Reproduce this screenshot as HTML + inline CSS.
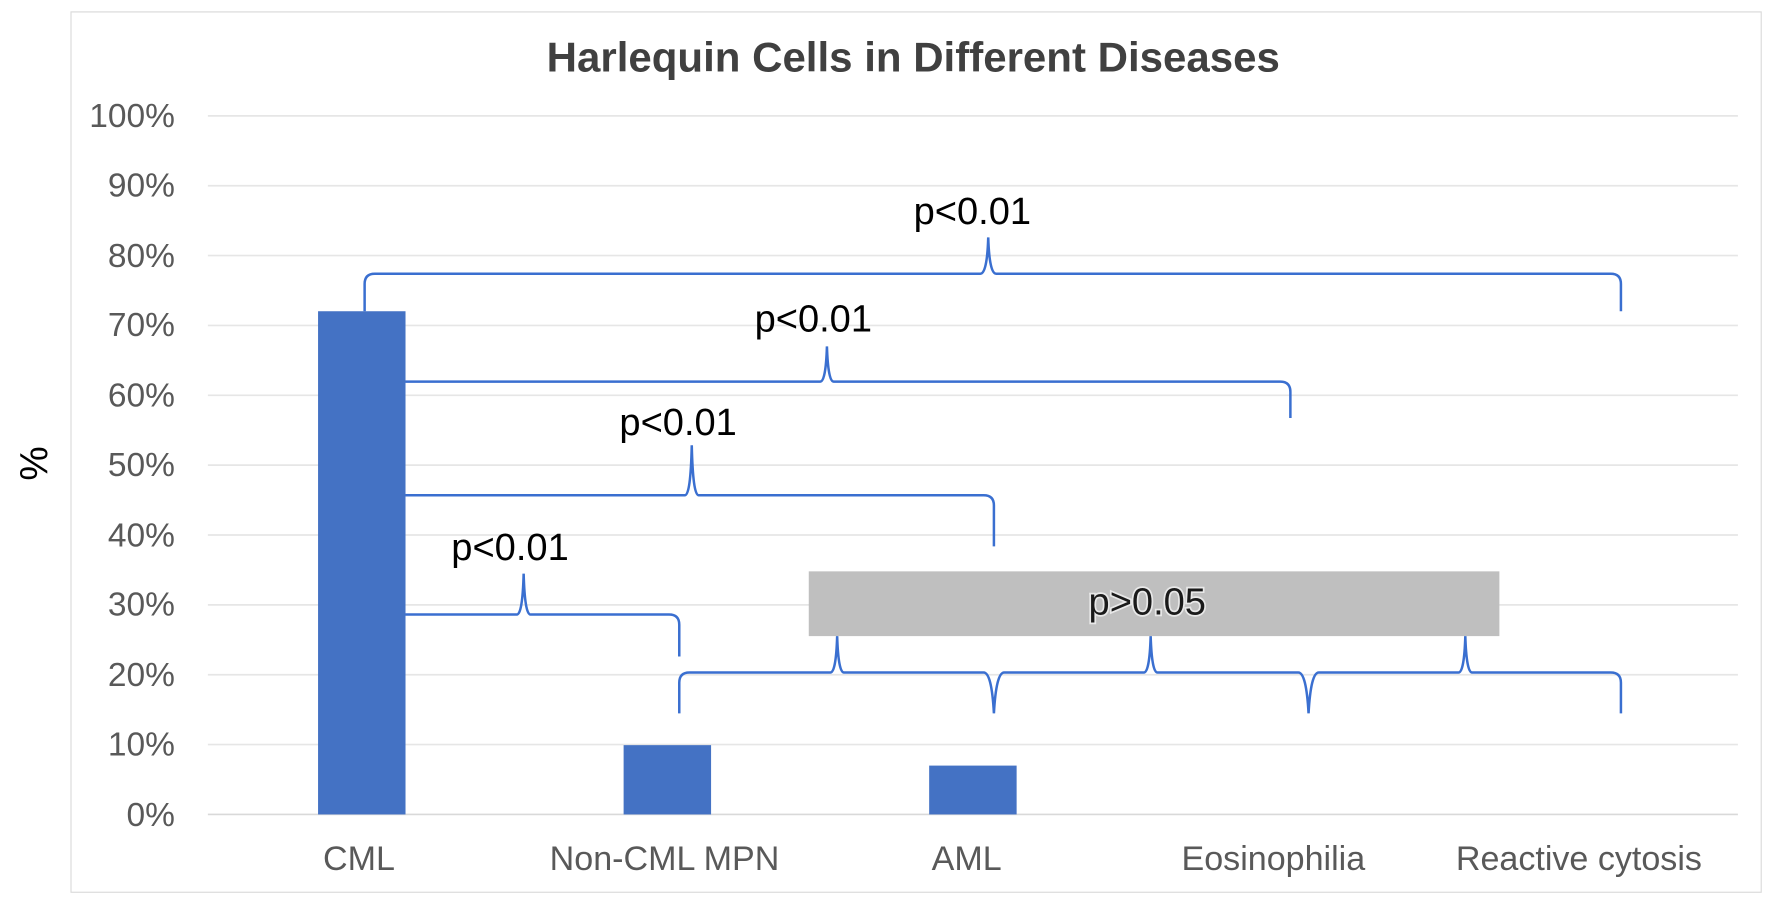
<!DOCTYPE html>
<html><head><style>body{margin:0;background:#fff}</style></head><body>
<svg width="1772" height="901" xmlns="http://www.w3.org/2000/svg" font-family="Liberation Sans, sans-serif">
<rect x="0" y="0" width="1772" height="901" fill="#fff"/>
<g transform="scale(1.1359)">
<rect x="62.5" y="10.5" width="1488" height="775" fill="none" stroke="#d9d9d9"/>
<text x="804" y="63" text-anchor="middle" font-size="37" font-weight="bold" fill="#404040">Harlequin Cells in Different Diseases</text>
<g stroke="#e6e6e6" stroke-width="1.5">
<line x1="183" x2="1530" y1="102" y2="102"/><line x1="183" x2="1530" y1="163.5" y2="163.5"/><line x1="183" x2="1530" y1="225" y2="225"/><line x1="183" x2="1530" y1="286.5" y2="286.5"/><line x1="183" x2="1530" y1="348" y2="348"/><line x1="183" x2="1530" y1="409.5" y2="409.5"/><line x1="183" x2="1530" y1="471" y2="471"/><line x1="183" x2="1530" y1="532.5" y2="532.5"/><line x1="183" x2="1530" y1="594" y2="594"/><line x1="183" x2="1530" y1="655.5" y2="655.5"/>
</g>
<line x1="183" x2="1530" y1="717" y2="717" stroke="#d9d9d9" stroke-width="1.5"/>
<g font-size="29.5" fill="#595959" text-anchor="end">
<text x="154" y="112">100%</text><text x="154" y="173">90%</text><text x="154" y="235">80%</text><text x="154" y="296">70%</text><text x="154" y="358">60%</text><text x="154" y="419">50%</text><text x="154" y="481">40%</text><text x="154" y="542">30%</text><text x="154" y="604">20%</text><text x="154" y="665">10%</text><text x="154" y="727">0%</text>
</g>
<text transform="translate(42,408) rotate(-90)" text-anchor="middle" font-size="34" fill="#000">%</text>
<g font-size="30" fill="#595959" text-anchor="middle">
<text x="316" y="766">CML</text><text x="585" y="766">Non-CML MPN</text><text x="851" y="766">AML</text><text x="1121" y="766">Eosinophilia</text><text x="1390" y="766">Reactive cytosis</text>
</g>
<g fill="#4472c4">
<rect x="280" y="274" width="77" height="443"/>
<rect x="549" y="656" width="77" height="61"/>
<rect x="818" y="674" width="77" height="43"/>
</g>
<rect x="712" y="503" width="608" height="57" fill="#bfbfbf"/>
<g fill="none" stroke="#3a6fd0" stroke-width="2.2">
<path d="M321 274 L321 250 Q321 241 330 241 L863 241 Q869 241 870 209 Q871 241 877 241 L1418 241 Q1427 241 1427 250 L1427 274"/>
<path d="M357 336 L722 336 Q727 336 728 305 Q729 336 734 336 L1127 336 Q1136 336 1136 345 L1136 368"/>
<path d="M357 436 L603 436 Q608 436 609 392 Q610 436 615 436 L866 436 Q875 436 875 445 L875 481"/>
<path d="M357 541 L455 541 Q460 541 461 505 Q462 541 467 541 L589 541 Q598 541 598 550 L598 578"/>
<path d="M598 628 L598 601 Q598 592 607 592 L731 592 Q736 592 737 560 Q738 592 743 592 L866 592 Q873 592 875 628 Q877 592 884 592 L1007 592 Q1012 592 1013 560 Q1014 592 1019 592 L1143 592 Q1150 592 1152 628 Q1154 592 1161 592 L1284 592 Q1289 592 1290 560 Q1291 592 1296 592 L1418 592 Q1427 592 1427 601 L1427 628"/>
</g>
<g font-size="33.5" fill="#000" text-anchor="middle">
<text x="856" y="197">p&lt;0.01</text><text x="716" y="292">p&lt;0.01</text><text x="597" y="383">p&lt;0.01</text><text x="449" y="493">p&lt;0.01</text>
<text x="1010" y="541" fill="#1a1a1a" stroke="#e8e8e8" stroke-width="3" paint-order="stroke">p&gt;0.05</text>
</g>
</g>
</svg>
</body></html>
